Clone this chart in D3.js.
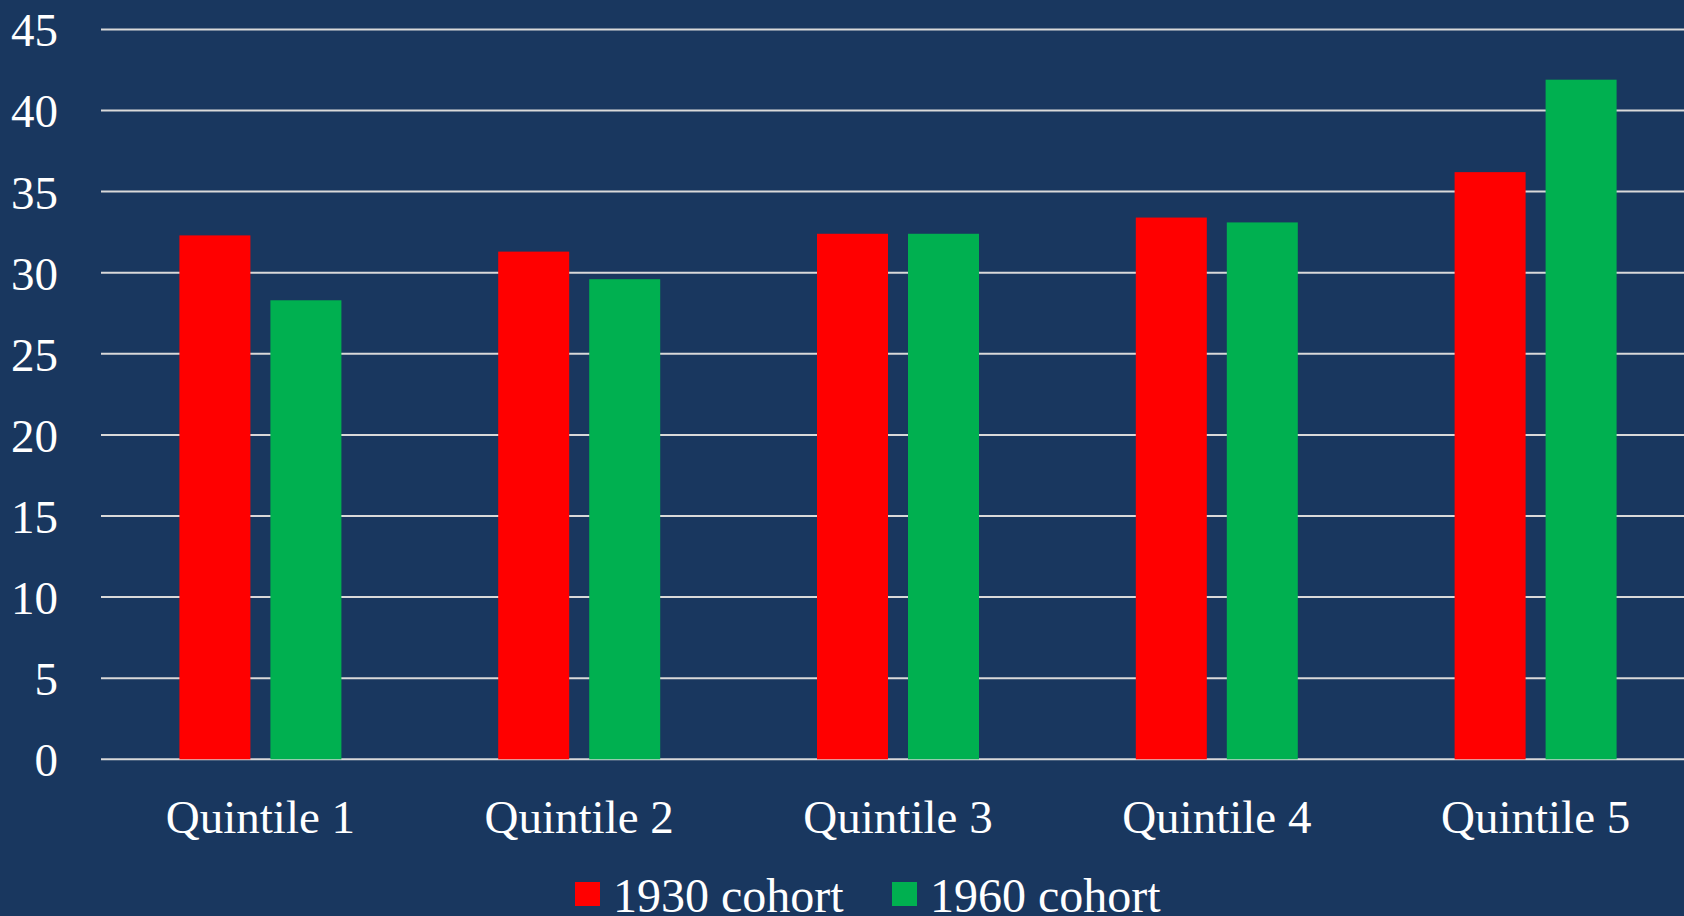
<!DOCTYPE html>
<html>
<head>
<meta charset="utf-8">
<script src="https://cdn.jsdelivr.net/npm/d3@7"></script>
<style>
  body { margin: 0; background: #19375f; }
  svg { display: block; }
</style>
</head>
<body>
<svg></svg>
<script>
// data
let quintiles = ['Quintile 1', 'Quintile 2', 'Quintile 3', 'Quintile 4', 'Quintile 5'];
let cohort1930 = [32.3, 31.3, 32.4, 33.4, 36.2];
let cohort1960 = [28.3, 29.6, 32.4, 33.1, 41.9];
let seriesNames = ['1930 cohort', '1960 cohort'];
let seriesColors = ['#ff0000', '#00b050'];
let yTicks = [0, 5, 10, 15, 20, 25, 30, 35, 40, 45];

let svgWidth = 1684,
    svgHeight = 916;

let svg = d3.select('svg')
            .attr('width', svgWidth)
            .attr('height', svgHeight);

svg.append('rect')
   .attr('width', svgWidth)
   .attr('height', svgHeight)
   .attr('fill', '#19375f');

// plot area (runs a little past the right edge, like the original)
let plotLeft = 101, plotRight = 1695, plotTop = 29.4, plotBottom = 759.3;

let x = d3.scaleBand()
          .domain(quintiles)
          .range([plotLeft, plotRight]);

let y = d3.scaleLinear()
          .domain([0, 45])
          .range([plotBottom, plotTop]);

// inner scale for the two series in each group
let barW = 71, gap = 20;
let xs = d3.scaleOrdinal()
           .domain(seriesNames)
           .range([-(barW + gap / 2), gap / 2]);

// gridlines
svg.append('g')
   .selectAll('line')
   .data(yTicks)
   .join('line')
   .attr('x1', plotLeft)
   .attr('x2', svgWidth)
   .attr('y1', d => y(d))
   .attr('y2', d => y(d))
   .attr('stroke', '#d9d9d9')
   .attr('stroke-width', 2);

// y axis labels
let yAxis = svg.append('g')
               .attr('transform', `translate(58,0)`)
               .call(d3.axisLeft(y).tickValues(yTicks).tickSize(0).tickPadding(0));
yAxis.select('.domain').remove();
yAxis.selectAll('text')
     .attr('fill', '#ffffff')
     .attr('font-family', '"Liberation Serif", "Times New Roman", serif')
     .attr('font-size', 47)
     .attr('dy', '0.35em');

// bars
let rows = quintiles.map((q, i) => ({ q: q, vals: [cohort1930[i], cohort1960[i]] }));

let groups = svg.append('g')
                .selectAll('g')
                .data(rows)
                .join('g')
                .attr('transform', d => `translate(${x(d.q) + x.bandwidth() / 2},0)`);

groups.selectAll('rect')
      .data(d => d.vals.map((v, k) => ({ name: seriesNames[k], v: v, k: k })))
      .join('rect')
      .attr('x', d => xs(d.name))
      .attr('y', d => y(d.v))
      .attr('width', barW)
      .attr('height', d => y(0) - y(d.v))
      .attr('fill', d => seriesColors[d.k]);

// x axis labels
let xAxis = svg.append('g')
               .attr('transform', `translate(0,${plotBottom})`)
               .call(d3.axisBottom(x).tickSize(0).tickPadding(0));
xAxis.select('.domain').remove();
xAxis.selectAll('text')
     .attr('fill', '#ffffff')
     .attr('font-family', '"Liberation Serif", "Times New Roman", serif')
     .attr('font-size', 47)
     .attr('y', 74)
     .attr('dy', 0);

// legend
let legendX = [575, 892];
let legend = svg.append('g')
                .selectAll('g')
                .data(seriesNames)
                .join('g')
                .attr('transform', (d, i) => `translate(${legendX[i]},882)`);

legend.append('rect')
      .attr('width', 25)
      .attr('height', 24)
      .attr('fill', (d, i) => seriesColors[i]);

legend.append('text')
      .attr('x', 38)
      .attr('y', 30)
      .attr('fill', '#ffffff')
      .attr('font-family', '"Liberation Serif", "Times New Roman", serif')
      .attr('font-size', 48)
      .text(d => d);
</script>
</body>
</html>
